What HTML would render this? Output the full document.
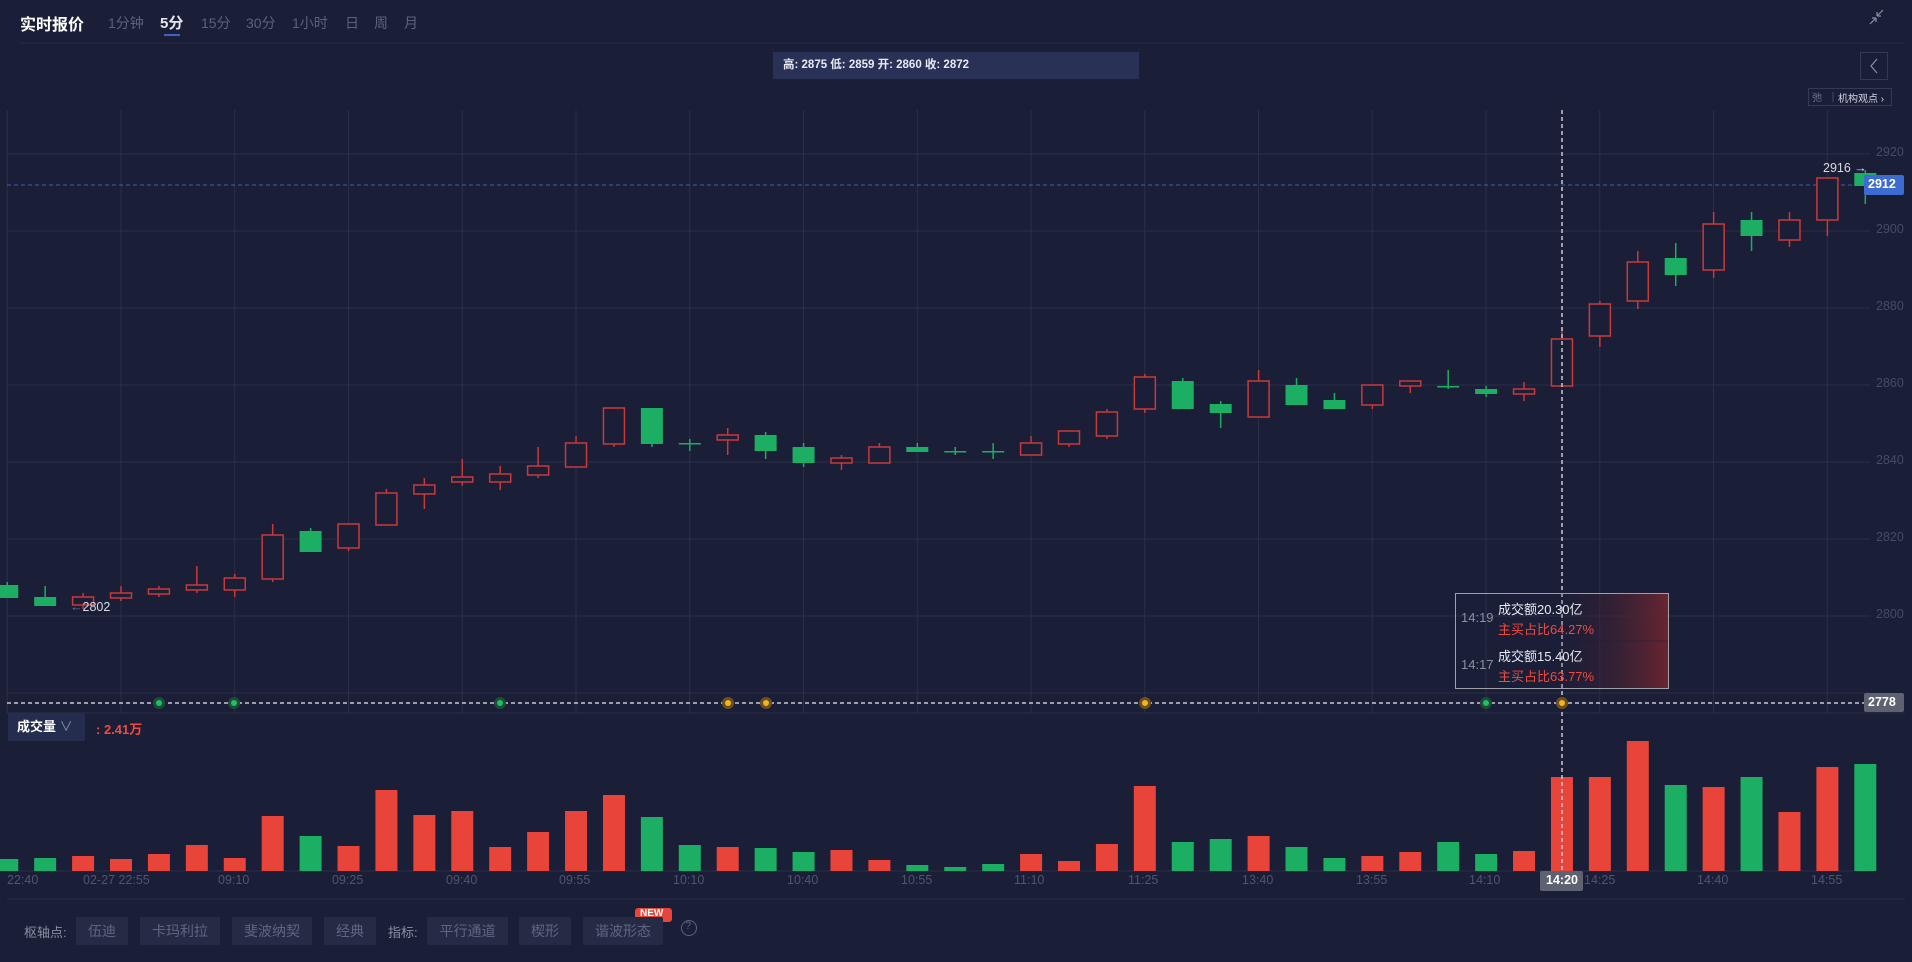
<!DOCTYPE html>
<html><head><meta charset="utf-8"><style>
*{margin:0;padding:0;box-sizing:border-box}
body{width:1912px;height:962px;background:#1a1e37;overflow:hidden;font-family:"Liberation Sans","Noto Sans CJK SC",sans-serif;position:relative}
.a{position:absolute;white-space:nowrap}
.tab{color:#5c627e;font-size:14px;top:13px}
.btn{position:absolute;top:917px;height:28px;background:#262b45;border-radius:2px;color:#5f6580;font-size:14px;text-align:center;line-height:28px}
.ax{color:#454b66;font-size:12.5px;left:1876px}
.tl{color:#4f5571;font-size:12.5px;top:873px}
</style></head><body>
<svg id="s" width="1912" height="962" style="position:absolute;left:0;top:0">
<line x1="20" y1="43" x2="1905" y2="43" stroke="#262b44" stroke-width="1"/>
<g id="grid" stroke="#2a2f47" stroke-width="1"></g>
<line x1="7" y1="713" x2="1905" y2="713" stroke="#2a2f47"/>
<line x1="7" y1="871" x2="1870" y2="871" stroke="#2a2f47"/>
<line x1="7" y1="899" x2="1905" y2="899" stroke="#2a2f47"/>
<line x1="7" y1="185" x2="1866" y2="185" stroke="#3d5fb8" stroke-dasharray="4,3"/>
<line x1="7" y1="703" x2="1866" y2="703" stroke="#c8c8d0" stroke-dasharray="4,3" stroke-width="1.5"/>
<g id="c"></g>
<g id="v"></g>
<line x1="1562" y1="110" x2="1562" y2="871" stroke="#c8c8d0" stroke-dasharray="4,3" stroke-width="1.5"/>
<g id="m"></g>
<defs><linearGradient id="tg" x1="0" x2="1"><stop offset="0.4" stop-color="#1a1e37" stop-opacity="0"/><stop offset="1" stop-color="#6a2530"/></linearGradient></defs>
<rect x="1455.5" y="593.5" width="213" height="95" fill="url(#tg)" stroke="#a0a0a8"/>
<line x1="1456" y1="641" x2="1668" y2="641" stroke="#1a1e37" stroke-opacity="0.5"/>
<rect x="1860.5" y="52.5" width="27" height="27" fill="none" stroke="#343a55"/>
<polyline points="1877,59 1871,66 1877,73" fill="none" stroke="#8a8fa5" stroke-width="1.2"/>
<rect x="1808.5" y="88.5" width="83" height="17" fill="none" stroke="#343a55"/>
<line x1="1833" y1="92" x2="1833" y2="102" stroke="#454b66"/>
<path d="M1877 16 L1883 10 M1877 16 L1877 12 M1877 16 L1881 16 M1870 24 L1876 18 M1876 18 L1872 18 M1876 18 L1876 22" stroke="#8a8fa5" stroke-width="1.2" fill="none"/>
<rect x="164" y="34" width="16" height="2" fill="#3d63c9"/>
<rect x="1864" y="175" width="40" height="20" rx="2" fill="#3e6bd0"/>
<rect x="1864" y="693" width="40" height="19" rx="2" fill="#5e6170"/>
<rect x="1540" y="871" width="43" height="20" rx="2" fill="#5e6170"/>
<circle cx="689" cy="928" r="7.5" fill="none" stroke="#5c627e"/>
<rect x="635" y="908" width="37" height="14" rx="3" fill="#e8443a"/>
</svg>
<div class="a" style="left:20px;top:11px;color:#fff;font-size:16px;font-weight:bold">实时报价</div>
<div class="a tab" style="left:108px">1分钟</div>
<div class="a tab" style="left:160px;color:#e6e8f0;font-weight:bold;font-size:15px;top:12px">5分</div>
<div class="a tab" style="left:201px">15分</div>
<div class="a tab" style="left:246px">30分</div>
<div class="a tab" style="left:292px">1小时</div>
<div class="a tab" style="left:345px">日</div>
<div class="a tab" style="left:374px">周</div>
<div class="a tab" style="left:404px">月</div>
<div class="a" style="left:773px;top:52px;width:366px;height:27px;background:#293156;color:#e8eaf2;font-size:11.5px;font-weight:bold;line-height:27px;padding-left:10px">高: 2875 低: 2859 开: 2860 收: 2872</div>
<div class="a" style="left:1812px;top:89px;color:#6b7088;font-size:10px">弛</div>
<div class="a" style="left:1838px;top:90px;color:#d0d4e0;font-size:10px">机构观点 ›</div>
<div class="a ax" style="top:145px">2920</div>
<div class="a ax" style="top:222px">2900</div>
<div class="a ax" style="top:299px">2880</div>
<div class="a ax" style="top:376px">2860</div>
<div class="a ax" style="top:453px">2840</div>
<div class="a ax" style="top:530px">2820</div>
<div class="a ax" style="top:607px">2800</div>
<div class="a" style="left:1868px;top:177px;color:#fff;font-size:12.5px;font-weight:bold">2912</div>
<div class="a" style="left:1868px;top:695px;color:#fff;font-size:12.5px;font-weight:bold">2778</div>
<div class="a" style="left:1823px;top:161px;color:#d8dae2;font-size:12.5px">2916 →</div>
<div class="a" style="left:70px;top:600px;color:#d8dae2;font-size:12.5px"><span style="color:#6b7088">←</span>2802</div>
<div class="a" style="left:1461px;top:610px;color:#8a8fa5;font-size:13px">14:19</div>
<div class="a" style="left:1498px;top:599px;color:#e8eaf2;font-size:13px">成交额20.30亿</div>
<div class="a" style="left:1498px;top:619px;color:#f04a3e;font-size:13px">主买占比64.27%</div>
<div class="a" style="left:1461px;top:657px;color:#8a8fa5;font-size:13px">14:17</div>
<div class="a" style="left:1498px;top:646px;color:#e8eaf2;font-size:13px">成交额15.40亿</div>
<div class="a" style="left:1498px;top:666px;color:#f04a3e;font-size:13px">主买占比63.77%</div>
<div class="a" style="left:8px;top:713px;width:77px;height:28px;background:#252d4e;color:#fff;font-size:13px;font-weight:bold;line-height:28px;padding-left:9px">成交量 <span style="color:#8a8fa5;font-weight:normal">∨</span></div>
<div class="a" style="left:96px;top:719px;color:#f04a3e;font-size:13px;font-weight:bold">: 2.41万</div>
<div class="a tl" style="left:7px">22:40</div>
<div class="a tl" style="left:83px">02-27 22:55</div>
<div class="a tl" style="left:218px">09:10</div>
<div class="a tl" style="left:332px">09:25</div>
<div class="a tl" style="left:446px">09:40</div>
<div class="a tl" style="left:559px">09:55</div>
<div class="a tl" style="left:673px">10:10</div>
<div class="a tl" style="left:787px">10:40</div>
<div class="a tl" style="left:901px">10:55</div>
<div class="a tl" style="left:1014px">11:10</div>
<div class="a tl" style="left:1128px">11:25</div>
<div class="a tl" style="left:1242px">13:40</div>
<div class="a tl" style="left:1356px">13:55</div>
<div class="a tl" style="left:1469px">14:10</div>
<div class="a tl" style="left:1584px">14:25</div>
<div class="a tl" style="left:1697px">14:40</div>
<div class="a tl" style="left:1811px">14:55</div>
<div class="a" style="left:1546px;top:873px;color:#fff;font-size:12.5px;font-weight:bold">14:20</div>
<div class="a" style="left:24px;top:922px;color:#8a8fa5;font-size:13px">枢轴点:</div>
<div class="btn" style="left:76px;width:52px">伍迪</div>
<div class="btn" style="left:140px;width:80px">卡玛利拉</div>
<div class="btn" style="left:232px;width:80px">斐波纳契</div>
<div class="btn" style="left:324px;width:52px">经典</div>
<div class="a" style="left:388px;top:922px;color:#8a8fa5;font-size:13px">指标:</div>
<div class="btn" style="left:427px;width:81px">平行通道</div>
<div class="btn" style="left:519px;width:52px">楔形</div>
<div class="btn" style="left:583px;width:80px">谐波形态</div>
<div class="a" style="left:640px;top:908px;color:#fff;font-size:10px;font-weight:bold">NEW</div>
<div class="a" style="left:685px;top:920px;color:#5c627e;font-size:11px">?</div>
<script>
var NS="http://www.w3.org/2000/svg";
function el(p,t,a){var e=document.createElementNS(NS,t);for(var k in a)e.setAttribute(k,a[k]);document.getElementById(p).appendChild(e);return e;}
for(var i=-1;i<16;i++){var x=121+113.75*i;el("grid","line",{x1:x,y1:110,x2:x,y2:713});}
[154,231,308,385,462,539,616,693].forEach(function(y){el("grid","line",{x1:7,y1:y,x2:1870,y2:y});});
var C=[
["g",585,598,582,598],["g",597,606,586,606],["r",597,605,593,609],["r",593,598,586,601],["r",589,594,586,597],
["r",585,590,566,593],["r",578,590,574,597],["r",535,579,524,582],["g",531,552,528,552],["r",524,548,524,551],
["r",493,525,489,525],["r",485,494,478,509],["r",477,482,459,486],["r",474,482,466,490],["r",466,475,447,478],
["r",443,467,436,467],["r",408,444,408,447],["g",408,444,408,447],["g",443,444,439,451],["r",435,440,428,455],
["g",435,451,432,459],["g",447,463,443,467],["r",458,463,455,470],["r",447,463,443,463],["g",447,452,443,452],
["g",451,452,447,455],["g",451,452,443,459],["r",443,455,436,455],["r",431,444,431,447],["r",412,436,409,439],
["r",377,409,374,413],["g",381,409,378,409],["g",404,413,401,428],["r",381,417,370,417],["g",385,405,378,405],
["g",400,409,393,409],["r",385,405,385,409],["r",381,386,381,393],["g",386,387,370,389],["g",389,394,386,397],
["r",389,394,382,401],["r",339,386,328,386],["r",304,336,301,347],["r",262,301,251,309],["g",258,275,243,286],
["r",224,270,212,278],["g",220,236,212,251],["r",220,240,212,247],["r",178,220,178,236],["g",173,186,170,204]];
var V=[12,13,15,12,17,26,13,55,35,25,81,56,60,24,39,60,76,54,26,24,23,19,21,11,6,4,7,17,10,27,85,29,32,35,24,13,15,19,29,17,20,94,94,130,86,84,94,59,104,107];
var VC="ggrrrrrrgr"+"rrrrrrrggr"+"ggrrgggrrr"+"rggrggrrgg"+"rrrrgrgrrg";
var R="#c9393a",G="#1cae62",RF="#e8443a";
C.forEach(function(c,k){var x=121+37.92*(k-3);var col=c[0]=="g"?G:R;
el("c","line",{x1:x,y1:c[3],x2:x,y2:c[4],stroke:col,"stroke-width":1.5});
if(c[0]=="g")el("c","rect",{x:x-11,y:c[1],width:22,height:Math.max(1.5,c[2]-c[1]),fill:G});
else el("c","rect",{x:x-10.5,y:c[1],width:21,height:Math.max(1,c[2]-c[1]),fill:"#1a1e37",stroke:R,"stroke-width":1.5});
var vc=VC[k]=="g"?G:RF;el("v","rect",{x:x-11,y:871-V[k],width:22,height:V[k],fill:vc});});
[[159,"g"],[234,"g"],[500,"g"],[728,"o"],[766,"o"],[1145,"o"],[1486,"g"],[1562,"o"]].forEach(function(m){
el("m","circle",{cx:m[0],cy:703,r:6,fill:m[1]=="g"?"#1f4a3c":"#6a5020"});
el("m","circle",{cx:m[0],cy:703,r:3,fill:m[1]=="g"?"#1cc25a":"#f5b21a"});});
</script>
</body></html>
